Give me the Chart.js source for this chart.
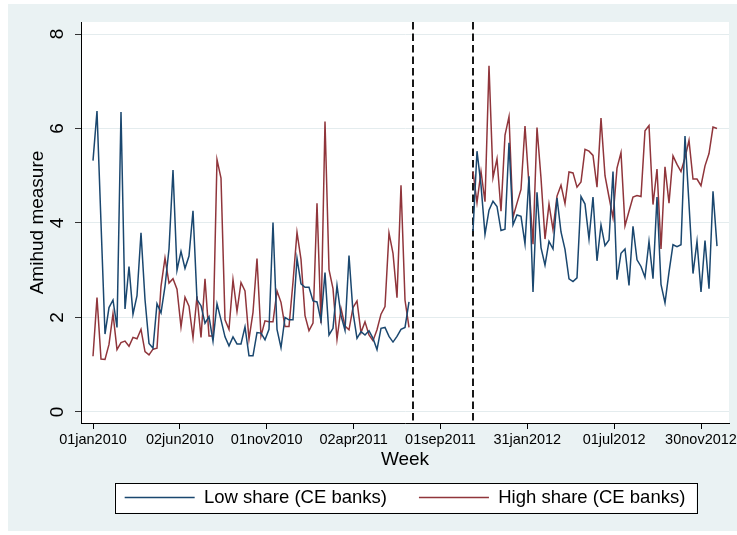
<!DOCTYPE html>
<html>
<head>
<meta charset="utf-8">
<title>Amihud measure by week</title>
<script src="https://cdn.jsdelivr.net/npm/chart.js@4.4.1/dist/chart.umd.min.js"></script>
<style>
  html, body { margin: 0; padding: 0; background: #fff; }
  #wrap { width: 737px; height: 535px; position: relative; }
</style>
</head>
<body>
<div id="wrap"><canvas id="chart"></canvas></div>
<script>
// Axis ticks: days counted from 01jan2010
const tickDays = [0, 152, 304, 456, 608, 760, 912, 1064];
const tickLabels = ['01jan2010', '02jun2010', '01nov2010', '02apr2011',
                    '01sep2011', '31jan2012', '01jul2012', '30nov2012'];
const yTickValues = [0, 2, 4, 6, 8];

// Weekly observations come in two runs; the dashed lines mark the break weeks
const run1StartWeek = 0;
const run2StartWeek = 95;
const breakWeeks = [80, 95];

const lowShareRun1 = [
  5.32, 6.37, 4.00, 1.65, 2.21, 2.37, 1.79, 6.35, 2.18, 3.08,
  2.07, 2.46, 3.79, 2.38, 1.45, 1.35, 2.29, 2.10, 2.66, 3.45,
  5.12, 3.00, 3.40, 3.04, 3.30, 4.26, 2.38, 2.25, 1.88, 2.02,
  1.50, 2.29, 1.95, 1.59, 1.40, 1.59, 1.44, 1.44, 1.80, 1.19,
  1.19, 1.68, 1.67, 1.53, 1.75, 4.01, 1.75, 1.36, 2.00, 1.95,
  1.95, 3.25, 2.71, 2.64, 2.64, 2.35, 2.33, 1.93, 2.95, 1.63,
  1.77, 2.68, 2.04, 1.73, 3.31, 2.11, 1.56, 1.70, 1.63, 1.72,
  1.56, 1.32, 1.77, 1.79, 1.60, 1.48, 1.60, 1.75, 1.79, 2.33
];
const lowShareRun2 = [
  3.83, 5.52, 4.80, 3.76, 4.27, 4.46, 4.35, 3.84, 3.87, 5.70,
  3.96, 4.17, 4.14, 3.56, 4.99, 2.54, 4.65, 3.48, 3.11, 3.61,
  3.45, 4.53, 3.81, 3.44, 2.82, 2.76, 2.84, 4.56, 4.40, 3.66,
  4.55, 3.20, 3.96, 3.52, 3.64, 5.09, 2.80, 3.36, 3.45, 2.68,
  3.93, 3.22, 3.08, 2.85, 3.61, 2.82, 4.55, 2.70, 2.31, 2.96,
  3.54, 3.50, 3.54, 5.84, 4.40, 2.93, 3.61, 2.54, 3.63, 2.61,
  4.67, 3.51
];
const highShareRun1 = [
  1.18, 2.42, 1.12, 1.11, 1.43, 2.08, 1.32, 1.47, 1.50, 1.39,
  1.58, 1.55, 1.75, 1.28, 1.21, 1.33, 1.35, 2.66, 3.26, 2.73,
  2.82, 2.60, 1.80, 2.43, 2.24, 1.57, 2.45, 1.58, 2.82, 1.61,
  1.61, 5.34, 4.95, 1.95, 1.75, 2.80, 2.13, 2.74, 2.56, 1.54,
  2.11, 3.25, 1.61, 1.93, 1.91, 1.91, 2.56, 2.32, 1.81, 1.81,
  2.75, 3.80, 3.23, 2.04, 1.72, 1.88, 4.42, 1.88, 6.15, 3.01,
  2.61, 1.54, 2.19, 1.82, 1.74, 2.21, 2.35, 1.68, 1.91, 1.63,
  1.51, 1.74, 2.07, 2.23, 3.79, 3.36, 2.42, 4.80, 2.37, 1.79
];
const highShareRun2 = [
  5.09, 4.43, 5.09, 4.45, 7.33, 4.96, 5.36, 4.25, 5.86, 6.25,
  4.12, 4.42, 4.71, 6.05, 4.80, 3.55, 6.02, 4.95, 3.66, 4.40,
  3.86, 4.57, 4.80, 4.41, 5.08, 5.06, 4.76, 4.87, 5.56, 5.52,
  5.43, 4.76, 6.22, 5.00, 4.55, 4.11, 5.16, 5.49, 3.94, 4.25,
  4.55, 4.58, 4.56, 5.95, 6.06, 4.39, 5.14, 3.45, 5.19, 4.42,
  5.42, 5.24, 5.09, 5.38, 5.75, 4.93, 4.93, 4.79, 5.21, 5.47,
  6.03, 6.00
];

const DAYS_PER_WEEK = 7;
const FONT = "'Liberation Sans', Arial, Helvetica, sans-serif";
const NAVY = '#1a476f';
const MAROON = '#90353b';

// Join both runs into one series, leaving a gap between them
function toPoints(run1, run2) {
  const pts = run1.map((v, k) => ({ x: (run1StartWeek + k) * DAYS_PER_WEEK, y: v }));
  pts.push({ x: (run1StartWeek + run1.length) * DAYS_PER_WEEK, y: null });
  run2.forEach((v, k) => pts.push({ x: (run2StartWeek + k) * DAYS_PER_WEEK, y: v }));
  return pts;
}

// Tick labels may overhang the plot edges without shrinking the plot region
function noLabelPadding(s) {
  s.paddingLeft = 0;
  s.paddingRight = 0;
  s.paddingTop = 0;
  s.paddingBottom = 0;
}

// Graph region backdrop, white plot region and framed legend
const backdrop = {
  id: 'backdrop',
  beforeDraw(chart) {
    const { ctx, chartArea: a, width, height } = chart;
    ctx.save();
    ctx.fillStyle = '#ffffff';
    ctx.fillRect(0, 0, width, height);
    ctx.fillStyle = '#eaf2f3';
    ctx.fillRect(8, 4, width - 8, height - 8);
    ctx.fillStyle = '#ffffff';
    ctx.fillRect(a.left, a.top, a.right - a.left, a.bottom - a.top);

    const boxes = chart.legend && chart.legend.legendHitBoxes;
    if (boxes && boxes.length) {
      const l = Math.min(...boxes.map(b => b.left)) - 10;
      const r = Math.max(...boxes.map(b => b.left + b.width)) + 11;
      const t = boxes[0].top - 5;
      const btm = boxes[0].top + boxes[0].height + 6;
      ctx.fillStyle = '#ffffff';
      ctx.fillRect(l, t, r - l, btm - t);
      ctx.strokeStyle = '#000000';
      ctx.lineWidth = 1;
      ctx.strokeRect(Math.round(l) + 0.5, Math.round(t) + 0.5, Math.round(r - l), Math.round(btm - t));
    }
    ctx.restore();
  }
};

// Vertical dashed reference lines at the break weeks
const breakLines = {
  id: 'breakLines',
  beforeDatasetsDraw(chart) {
    const { ctx, chartArea: a, scales: { x } } = chart;
    ctx.save();
    ctx.strokeStyle = '#000000';
    ctx.lineWidth = 1.8;
    ctx.setLineDash([7.5, 4]);
    breakWeeks.forEach(w => {
      const px = Math.round(x.getPixelForValue(w * DAYS_PER_WEEK));
      ctx.beginPath();
      ctx.moveTo(px, a.top);
      ctx.lineTo(px, a.bottom);
      ctx.stroke();
    });
    ctx.restore();
  }
};

new Chart(document.getElementById('chart'), {
  type: 'line',
  data: {
    datasets: [
      {
        label: 'Low share (CE banks)',
        data: toPoints(lowShareRun1, lowShareRun2),
        borderColor: NAVY,
        backgroundColor: NAVY,
        borderWidth: 1.5,
        pointRadius: 0,
        tension: 0,
        spanGaps: false
      },
      {
        label: 'High share (CE banks)',
        data: toPoints(highShareRun1, highShareRun2),
        borderColor: MAROON,
        backgroundColor: MAROON,
        borderWidth: 1.5,
        pointRadius: 0,
        tension: 0,
        spanGaps: false
      }
    ]
  },
  options: {
    responsive: true,
    maintainAspectRatio: false,
    animation: false,
    devicePixelRatio: 1,
    layout: { padding: { left: 8, right: 8, top: 22, bottom: 18.25 } },
    plugins: {
      tooltip: { enabled: false },
      legend: {
        position: 'bottom',
        fullSize: false,
        labels: {
          usePointStyle: true,
          pointStyle: 'line',
          pointStyleWidth: 70,
          padding: 32,
          color: '#000000',
          font: { family: FONT, size: 18.5 }
        }
      }
    },
    scales: {
      x: {
        type: 'linear',
        min: -21,
        max: 1113,
        afterBuildTicks: s => { s.ticks = tickDays.map(v => ({ value: v })); },
        afterFit: s => { s.height = 33.25; noLabelPadding(s); },
        ticks: {
          autoSkip: false,
          minRotation: 0,
          maxRotation: 0,
          padding: 2.3,
          color: '#000000',
          font: { family: FONT, size: 14.5 },
          callback: v => tickLabels[tickDays.indexOf(v)]
        },
        grid: { drawOnChartArea: false, drawTicks: true, tickLength: 6, tickColor: '#000000', tickWidth: 1 },
        border: { display: true, color: '#000000', width: 1 },
        title: {
          display: true,
          text: 'Week',
          color: '#000000',
          font: { family: FONT, size: 19 },
          padding: { top: 0, bottom: -15.15 }
        }
      },
      y: {
        type: 'linear',
        min: -0.233,
        max: 8.254,
        afterBuildTicks: s => { s.ticks = yTickValues.map(v => ({ value: v })); },
        afterFit: s => { s.width = 73; noLabelPadding(s); },
        ticks: {
          minRotation: 90,
          maxRotation: 90,
          crossAlign: 'center',
          padding: 11.7,
          color: '#000000',
          font: { family: FONT, size: 19 }
        },
        grid: { color: '#e4ecee', lineWidth: 1, drawTicks: true, tickLength: 6, tickColor: '#333333', tickWidth: 1 },
        border: { display: true, color: '#000000', width: 1 },
        title: {
          display: true,
          text: 'Amihud measure',
          color: '#000000',
          font: { family: FONT, size: 19 },
          padding: { top: 18, bottom: 0 }
        }
      }
    }
  },
  plugins: [backdrop, breakLines]
});
</script>
</body>
</html>
